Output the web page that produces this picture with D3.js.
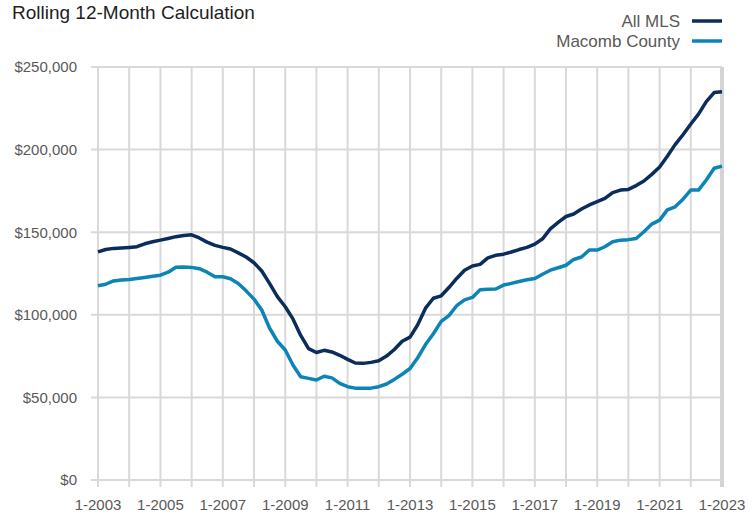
<!DOCTYPE html>
<html>
<head>
<meta charset="utf-8">
<script src="https://cdn.jsdelivr.net/npm/d3@7"></script>
<style>
  html, body { margin: 0; padding: 0; background: #fff; }
  svg { display: block; font-family: "Liberation Sans", Arial, sans-serif; }
</style>
</head>
<body>
<svg id="chart" width="756" height="515"></svg>
<script>
// ---- data (quarterly, starting 1-2003) ----
const startDate = "2003-01";
const allMLS = [
  138100, 139500, 140200, 140500,
  140800, 141200, 143000, 144200,
  145200, 146200, 147300, 148000,
  148400, 146500, 144000, 142000,
  140800, 139800, 137500, 135000,
  131500, 126500, 119000, 111000,
  104900, 97500, 87500, 79500,
  77200, 78500, 77500, 75500,
  73000, 70800, 70600, 71200,
  72200, 75000, 79000, 84000,
  86500, 94000, 104000, 110000,
  111500, 116500, 122000, 127000,
  129500, 130500, 134500, 136000,
  136700, 138000, 139500, 140800,
  142800, 146000, 152000, 156000,
  159500, 161000, 164000, 166500,
  168500, 170500, 174000, 175500,
  175900, 178200, 181000, 185000,
  189500, 196000, 203000, 209000,
  215500, 221500, 229000, 234500,
  235000
];
const macomb = [
  117600, 118500, 120500, 121000,
  121400, 122000, 122600, 123300,
  124000, 125800, 128800, 128900,
  128700, 127900, 125800, 123000,
  123000, 121800, 119000, 114500,
  109500, 102900, 92000, 84000,
  78700, 69600, 62500, 61500,
  60500, 62800, 61800, 58500,
  56500, 55600, 55500, 55600,
  56500, 58100, 60900, 64000,
  67500, 74000, 82000, 88500,
  96000, 99500, 105500, 109000,
  110500, 115200, 115400, 115600,
  118000, 119000, 120200, 121200,
  122000, 124500, 127000, 128500,
  130000, 133500, 135000, 139200,
  139200, 141200, 144200, 145200,
  145500, 146200, 150300, 154900,
  157300, 163500, 165400, 170000,
  175500, 175500, 181600, 188700,
  190000
];
const seriesNames = ["All MLS", "Macomb County"];
const seriesColors = ["#0b2d5c", "#0d84b6"];
const xTickLabels = ["1-2003","1-2005","1-2007","1-2009","1-2011","1-2013","1-2015","1-2017","1-2019","1-2021","1-2023"];
const yTickValues = [0, 50000, 100000, 150000, 200000, 250000];
const title = "Rolling 12-Month Calculation";

// ---- setup ----
const svg = d3.select("#chart");
const parseMonth = d3.timeParse("%Y-%m");
const t0 = parseMonth(startDate);
const dates = allMLS.map((_, i) => d3.timeMonth.offset(t0, i * 3));

const x = d3.scaleTime()
  .domain([parseMonth("2003-01"), parseMonth("2023-01")])
  .range([98, 722]);
const y = d3.scaleLinear().domain([0, 250000]).range([480, 67]);

const gridColor = "#d9d9d9";
const textColor = "#595959";

// vertical gridlines (every year)
const years = d3.timeYear.range(parseMonth("2003-01"), d3.timeYear.offset(parseMonth("2023-01"), 1));
svg.append("g").selectAll("line").data(years).join("line")
  .attr("x1", d => x(d)).attr("x2", d => x(d))
  .attr("y1", y(250000)).attr("y2", y(0) + 7)
  .attr("stroke", (d, i) => i === years.length - 1 ? "#d4d4d4" : gridColor)
  .attr("stroke-width", (d, i) => i === years.length - 1 ? 4 : 2);

// horizontal gridlines
svg.append("g").selectAll("line").data(yTickValues).join("line")
  .attr("x1", x.range()[0] - 7).attr("x2", x.range()[1])
  .attr("y1", d => y(d)).attr("y2", d => y(d))
  .attr("stroke", gridColor).attr("stroke-width", 2);

// y labels
const fmt = d3.format("$,");
svg.append("g").selectAll("text").data(yTickValues).join("text")
  .attr("x", 77).attr("y", d => y(d)).attr("dy", "0.36em")
  .attr("text-anchor", "end")
  .attr("font-size", 15).attr("fill", textColor)
  .text(d => fmt(d));

// x labels
const xLabelDates = xTickLabels.map(s => d3.timeParse("%m-%Y")(s));
svg.append("g").selectAll("text").data(xTickLabels).join("text")
  .attr("x", (d, i) => x(xLabelDates[i])).attr("y", 510)
  .attr("text-anchor", "middle")
  .attr("font-size", 15).attr("fill", textColor)
  .text(d => d);

// lines
const line = d3.line().x((d, i) => x(dates[i])).y(d => y(d)).curve(d3.curveLinear);
[allMLS, macomb].forEach((s, k) => {
  svg.append("path").datum(s)
    .attr("d", line)
    .attr("fill", "none")
    .attr("stroke", seriesColors[k])
    .attr("stroke-width", 3.5)
    .attr("stroke-linejoin", "round");
});

// title
svg.append("text").attr("x", 12).attr("y", 19)
  .attr("font-size", 19).attr("fill", "#1e1e1e")
  .text(title);

// legend
const legY = [26.5, 46.5];
seriesNames.forEach((n, k) => {
  svg.append("text").attr("x", 680).attr("y", legY[k])
    .attr("text-anchor", "end").attr("font-size", 17).attr("fill", textColor)
    .text(n);
  svg.append("line")
    .attr("x1", 692).attr("x2", 722)
    .attr("y1", legY[k] - 5.5).attr("y2", legY[k] - 5.5)
    .attr("stroke", seriesColors[k]).attr("stroke-width", 3.5);
});
</script>
</body>
</html>
